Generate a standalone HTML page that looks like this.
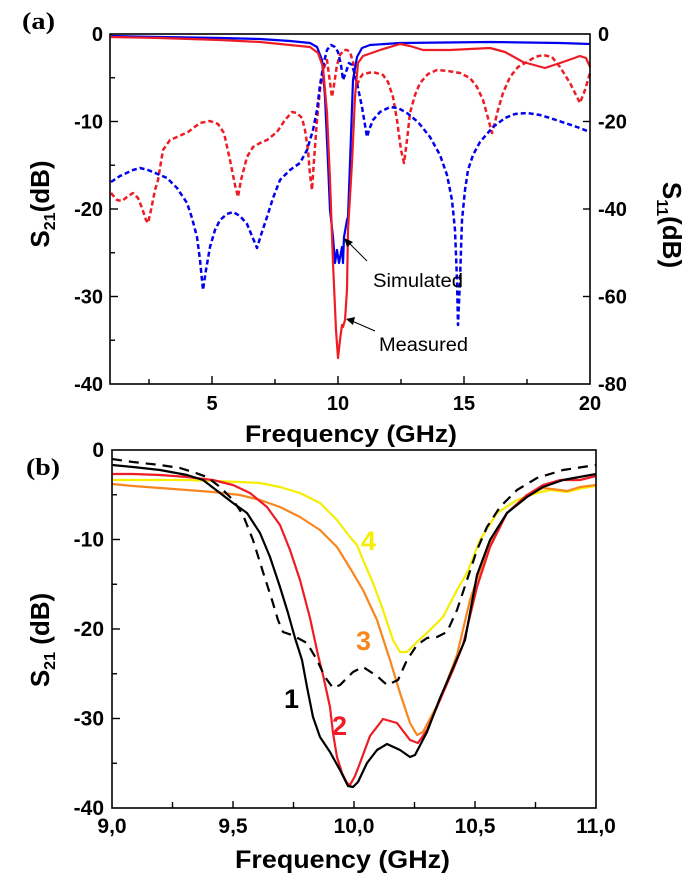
<!DOCTYPE html>
<html><head><meta charset="utf-8"><style>
html,body{margin:0;padding:0;background:#fff;}
svg{display:block;}
text{font-family:"Liberation Sans",Arial,sans-serif;}
</style></head><body>
<svg width="697" height="890" viewBox="0 0 697 890" xmlns="http://www.w3.org/2000/svg">
<rect width="697" height="890" fill="#fff"/>

<!-- ========== PANEL (a) ========== -->
<text x="22" y="29" font-family="Liberation Serif,serif" font-weight="bold" font-size="24" textLength="33" lengthAdjust="spacingAndGlyphs" style="font-family:'Liberation Serif',serif">(a)</text>

<g fill="none" stroke-linejoin="round" stroke-linecap="butt">
<!-- red dashed S11 measured -->
<polyline stroke="#ee1c25" stroke-width="2.5" stroke-dasharray="5,3" points="111,193 117,200 122,201 127,197 133,193 138,198 142,208 146,220 148,223 151,210 155,190 158,180 163,150 170,140 177,137 188,132 200,123 210,121 218,124 224,133 230,160 235,185 238,197 241,180 247,157 253,147 260,143 267,140 277,132 285,120 292,112 297,113 302,118 305,130 308,150 310,175 312,190 314,160 317,120 320,90 323,70 327,60 329,75 331,90 332,97 334,85 337,65 340,55 344,50 347,50 350,52 353,62 355,75 357,85 360,78 363,74 373,72 383,75 388,82 393,97 397,120 401,150 404,163 407,140 410,113 415,95 420,83 428,74 437,70 448,71 460,73 470,78 477,87 483,100 488,118 492,133 495,122 498,110 503,93 510,77 518,67 527,62 535,57 543,55 552,57 560,67 565,75 570,83 575,93 580,103 585,90 590,73"/>
<!-- blue dashed S11 simulated -->
<polyline stroke="#0000ee" stroke-width="2.5" stroke-dasharray="5,3" points="111,182 120,176 133,170 140,168 148,170 160,175 167,178 177,188 187,203 192,218 197,237 200,260 203,290 206,270 210,247 215,230 220,220 227,214 233,212 240,216 247,224 252,236 257,248 261,235 267,217 273,198 280,180 290,170 300,163 307,150 313,130 317,110 320,85 324,62 327,50 331,45 335,47 338,52 341,65 343,80 346,72 349,63 352,65 355,75 358,88 362,107 365,125 367,137 369,130 373,120 380,112 390,107 398,108 407,113 418,122 430,137 440,155 447,175 452,200 455,230 457,280 458,325 460,280 462,220 465,190 468,170 473,155 480,142 493,127 505,118 515,114 527,113 540,115 550,118 565,123 577,127 590,132"/>
<!-- blue solid S21 simulated -->
<polyline stroke="#0000ee" stroke-width="2.2" points="111,36 160,37 220,38 260,39 290,41 310,43 317,47 322,60 325,97 328,163 330,210 333,237 335,263 337,250 339,263 342,247 343,263 344,237 347,220 348,217 350,163 353,80 357,57 362,48 370,45 400,43 490,42 560,43 590,44"/>
<!-- red solid S21 measured -->
<polyline stroke="#ee1c25" stroke-width="2.2" points="111,37 160,38 220,40 260,42 290,45 310,47 318,53 323,67 327,113 330,180 333,263 336,330 338,358 340,340 342,325 343,327 345,320 347,290 348,230 352,163 355,97 358,63 363,56 380,50 400,44 410,46 423,50 450,50 490,48 505,52 523,62 545,68 563,62 580,56 586,58 590,67"/>
</g>

<!-- axes frame (a) -->
<rect x="110" y="34" width="480" height="350" fill="none" stroke="#000" stroke-width="1.6"/>
<g stroke="#000" stroke-width="1.4">
<!-- left ticks -->
<line x1="110" y1="121.5" x2="118" y2="121.5"/>
<line x1="110" y1="209" x2="118" y2="209"/>
<line x1="110" y1="296.5" x2="118" y2="296.5"/>
<line x1="110" y1="77.75" x2="115" y2="77.75"/>
<line x1="110" y1="165.25" x2="115" y2="165.25"/>
<line x1="110" y1="252.75" x2="115" y2="252.75"/>
<line x1="110" y1="340.25" x2="115" y2="340.25"/>
<!-- right ticks -->
<line x1="583" y1="121.5" x2="590" y2="121.5"/>
<line x1="583" y1="209" x2="590" y2="209"/>
<line x1="583" y1="296.5" x2="590" y2="296.5"/>
<!-- bottom ticks -->
<line x1="212" y1="384" x2="212" y2="376"/>
<line x1="338" y1="384" x2="338" y2="376"/>
<line x1="464" y1="384" x2="464" y2="376"/>
<line x1="149" y1="384" x2="149" y2="379"/>
<line x1="275" y1="384" x2="275" y2="379"/>
<line x1="401" y1="384" x2="401" y2="379"/>
<line x1="527" y1="384" x2="527" y2="379"/>
</g>

<g font-weight="bold" font-size="20" fill="#000">
<text x="103" y="41" text-anchor="end">0</text>
<text x="103" y="128.5" text-anchor="end">-10</text>
<text x="103" y="216" text-anchor="end">-20</text>
<text x="103" y="303.5" text-anchor="end">-30</text>
<text x="103" y="391" text-anchor="end">-40</text>
<text x="598" y="41">0</text>
<text x="598" y="128.5">-20</text>
<text x="598" y="216">-40</text>
<text x="598" y="303.5">-60</text>
<text x="598" y="391">-80</text>
<text x="212" y="410" text-anchor="middle">5</text>
<text x="338" y="410" text-anchor="middle">10</text>
<text x="464" y="410" text-anchor="middle">15</text>
<text x="590" y="410" text-anchor="middle">20</text>
</g>
<text x="245" y="442" font-weight="bold" font-size="24" textLength="212" lengthAdjust="spacingAndGlyphs">Frequency (GHz)</text>

<text transform="translate(49,204) rotate(-90)" text-anchor="middle" font-weight="bold" font-size="26">S<tspan font-size="16" dy="6">21</tspan><tspan dy="-6">(dB)</tspan></text>
<text transform="translate(663,225) rotate(90)" text-anchor="middle" font-weight="bold" font-size="26">S<tspan font-size="16" dy="6">11</tspan><tspan dy="-6">(dB)</tspan></text>

<!-- annotations -->
<g stroke="#000" stroke-width="1">
<line x1="367" y1="261" x2="349" y2="243"/>
<line x1="375" y1="331" x2="352" y2="321"/>
</g>
<polygon points="344,238 353,242 347,247" fill="#000"/>
<polygon points="346,319 355,317 353,325" fill="#000"/>
<text x="373" y="287" font-size="19" textLength="90" lengthAdjust="spacingAndGlyphs">Simulated</text>
<text x="379" y="351" font-size="19" textLength="89" lengthAdjust="spacingAndGlyphs">Measured</text>

<!-- ========== PANEL (b) ========== -->
<text x="26" y="475" font-weight="bold" font-size="24" textLength="34" lengthAdjust="spacingAndGlyphs" style="font-family:'Liberation Serif',serif">(b)</text>

<g fill="none" stroke-linejoin="round" stroke-width="2.2">
<!-- yellow 4 -->
<polyline stroke="#f5ee00" points="112,480 133,480 160,480 187,480 213,481 240,482 260,483 280,487 300,493 320,503 337,520 350,537 357,545 363,560 373,583 383,610 393,640 400,652 407,652 417,642 430,630 443,617 457,590 467,573 480,540 497,513 517,500 537,493 550,490 567,492 583,488 596,486"/>
<!-- orange 3 -->
<polyline stroke="#f7861e" points="112,484 133,486 160,488 187,490 213,492 240,495 260,500 280,507 300,517 320,530 337,547 350,568 363,590 377,620 390,660 400,693 410,723 417,735 423,732 440,700 457,655 470,600 487,550 507,513 527,495 543,488 560,490 567,491 580,487 596,485"/>
<!-- red 2 -->
<polyline stroke="#ee1c25" points="112,474 133,474 160,475 187,477 213,480 233,485 250,493 267,507 280,525 290,550 300,580 310,618 318,655 323,675 330,707 333,733 337,757 342,773 347,783 350,785 355,776 360,763 370,736 383,719 397,723 410,740 418,743 427,730 440,700 453,670 463,645 477,587 490,547 507,513 527,495 543,485 560,480 580,480 596,476"/>
<!-- black 1 -->
<polyline stroke="#000" points="112,465 133,467 160,470 187,475 203,480 220,493 233,503 247,513 260,533 270,557 280,587 288,613 295,638 302,660 307,687 313,717 320,737 330,752 340,770 348,786 353,787 358,782 367,763 377,750 387,744 400,750 410,757 415,755 427,732 440,698 453,668 465,640 477,575 490,540 507,513 527,497 543,487 563,480 596,474"/>
<!-- black dashed -->
<polyline stroke="#000" stroke-dasharray="10,7" points="112,459 133,462 160,465 180,468 193,472 207,477 220,487 233,500 243,515 253,540 263,572 272,600 278,620 283,632 292,635 307,643 317,660 325,677 333,688 340,685 353,672 363,667 377,676 387,685 398,680 407,660 417,645 427,638 437,637 447,632 457,610 467,580 477,550 487,527 500,507 517,490 537,478 563,470 596,465"/>
</g>

<rect x="112" y="450" width="484" height="358" fill="none" stroke="#000" stroke-width="1.6"/>
<g stroke="#000" stroke-width="1.4">
<line x1="112" y1="539.5" x2="120" y2="539.5"/>
<line x1="112" y1="629" x2="120" y2="629"/>
<line x1="112" y1="718.5" x2="120" y2="718.5"/>
<line x1="112" y1="494.75" x2="117" y2="494.75"/>
<line x1="112" y1="584.25" x2="117" y2="584.25"/>
<line x1="112" y1="673.75" x2="117" y2="673.75"/>
<line x1="112" y1="763.25" x2="117" y2="763.25"/>
<line x1="172.5" y1="808" x2="172.5" y2="802"/>
<line x1="233" y1="808" x2="233" y2="801"/>
<line x1="293.5" y1="808" x2="293.5" y2="802"/>
<line x1="354" y1="808" x2="354" y2="801"/>
<line x1="414.5" y1="808" x2="414.5" y2="802"/>
<line x1="475" y1="808" x2="475" y2="801"/>
<line x1="535.5" y1="808" x2="535.5" y2="802"/>
</g>

<g font-weight="bold" font-size="21" fill="#000">
<text x="104" y="457" text-anchor="end">0</text>
<text x="104" y="546.5" text-anchor="end">-10</text>
<text x="104" y="636" text-anchor="end">-20</text>
<text x="104" y="725.5" text-anchor="end">-30</text>
<text x="104" y="815" text-anchor="end">-40</text>
<text x="112" y="833" text-anchor="middle">9,0</text>
<text x="233" y="833" text-anchor="middle">9,5</text>
<text x="354" y="833" text-anchor="middle">10,0</text>
<text x="475" y="833" text-anchor="middle">10,5</text>
<text x="596" y="833" text-anchor="middle">11,0</text>
</g>
<text x="235" y="868" font-weight="bold" font-size="25" textLength="215" lengthAdjust="spacingAndGlyphs">Frequency (GHz)</text>
<text transform="translate(49,640) rotate(-90)" text-anchor="middle" font-weight="bold" font-size="26">S<tspan font-size="16" dy="6">21</tspan><tspan dy="-6"> (dB)</tspan></text>

<g font-weight="bold" font-size="27">
<text x="284" y="708" fill="#000">1</text>
<text x="332" y="735" fill="#ee1c25">2</text>
<text x="356" y="650" fill="#f7861e">3</text>
<text x="361" y="550" fill="#f5ee00">4</text>
</g>
</svg>
</body></html>
